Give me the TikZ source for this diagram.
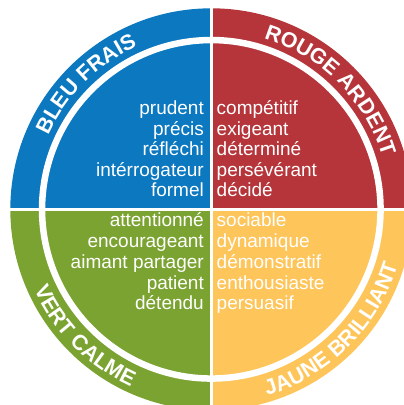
\documentclass[tikz,border=0pt]{standalone}
\usepackage{fontspec}
\setmainfont{Liberation Sans}
\usetikzlibrary{decorations.text}
\definecolor{qblue}{RGB}{11,120,192}
\definecolor{qred}{RGB}{181,53,58}
\definecolor{qgreen}{RGB}{123,163,49}
\definecolor{qyellow}{RGB}{254,197,90}
\newcommand\arclab{\fontsize{21.5}{21.5}\selectfont\bfseries\color{white}}
\begin{document}
\begin{tikzpicture}[x=1pt,y=1pt,
  word/.style={font=\fontsize{19}{19}\selectfont, text=white, inner sep=0pt},
  wl/.style={word, anchor=base east},
  wr/.style={word, anchor=base west},
  divider/.style={white, line width=2.5pt},
  ringgap/.style={white, line width=6.5pt}]
\useasboundingbox (0,0) rectangle (404,405);
\clip (0,0) rectangle (404,405);
\coordinate (C) at (211.3,195.7);
\def\R{201}
% quadrants
\fill[qred] (C) -- ++(0:\R) arc[start angle=0,end angle=90,radius=\R] -- cycle;
\fill[qblue] (C) -- ++(90:\R) arc[start angle=90,end angle=180,radius=\R] -- cycle;
\fill[qgreen] (C) -- ++(180:\R) arc[start angle=180,end angle=270,radius=\R] -- cycle;
\fill[qyellow] (C) -- ++(270:\R) arc[start angle=270,end angle=360,radius=\R] -- cycle;
% white ring and dividers
\draw[ringgap] (C) circle[radius=169.25];
\draw[divider] ([yshift=-210]C) -- ([yshift=210]C);
\draw[divider] ([xshift=-210]C) -- ([xshift=210]C);
% words
\foreach \w [count=\i from 0] in {prudent,précis,réfléchi,intérrogateur,formel}
  \node[wl] (bl\i) at (204,{290-20.5*\i}) {\w};
\foreach \w [count=\i from 0] in {compétitif,exigeant,déterminé,persévérant,décidé}
  \node[wr] (rd\i) at (216.5,{290-20.5*\i}) {\w};
\foreach \w [count=\i from 0] in {attentionné,encourageant,aimant partager,patient,détendu}
  \node[wl] (vc\i) at (204,{178-20.7*\i}) {\w};
\foreach \w [count=\i from 0] in {sociable,dynamique,démonstratif,enthousiaste,persuasif}
  \node[wr] (jb\i) at (216.5,{178-20.7*\i}) {\w};
% arc labels
\path[shift={(C)}, decorate, decoration={text along path, text align=center,
  text={|\arclab|BLEU FRAIS}}]
  (178:179) arc[start angle=178, end angle=92, radius=179];
\path[shift={(C)}, decorate, decoration={text along path, text align=center,
  text={|\arclab|ROUGE ARDENT}}]
  (88:179) arc[start angle=88, end angle=2, radius=179];
\path[shift={(C)}, decorate, decoration={text along path, text align=center,
  text={|\arclab|VERT CALME}}]
  (182:194.5) arc[start angle=182, end angle=268, radius=194.5];
\path[shift={(C)}, decorate, decoration={text along path, text align=center,
  text={|\arclab|JAUNE BRILLIANT}}]
  (272:194.5) arc[start angle=272, end angle=358, radius=194.5];
\end{tikzpicture}
\end{document}
